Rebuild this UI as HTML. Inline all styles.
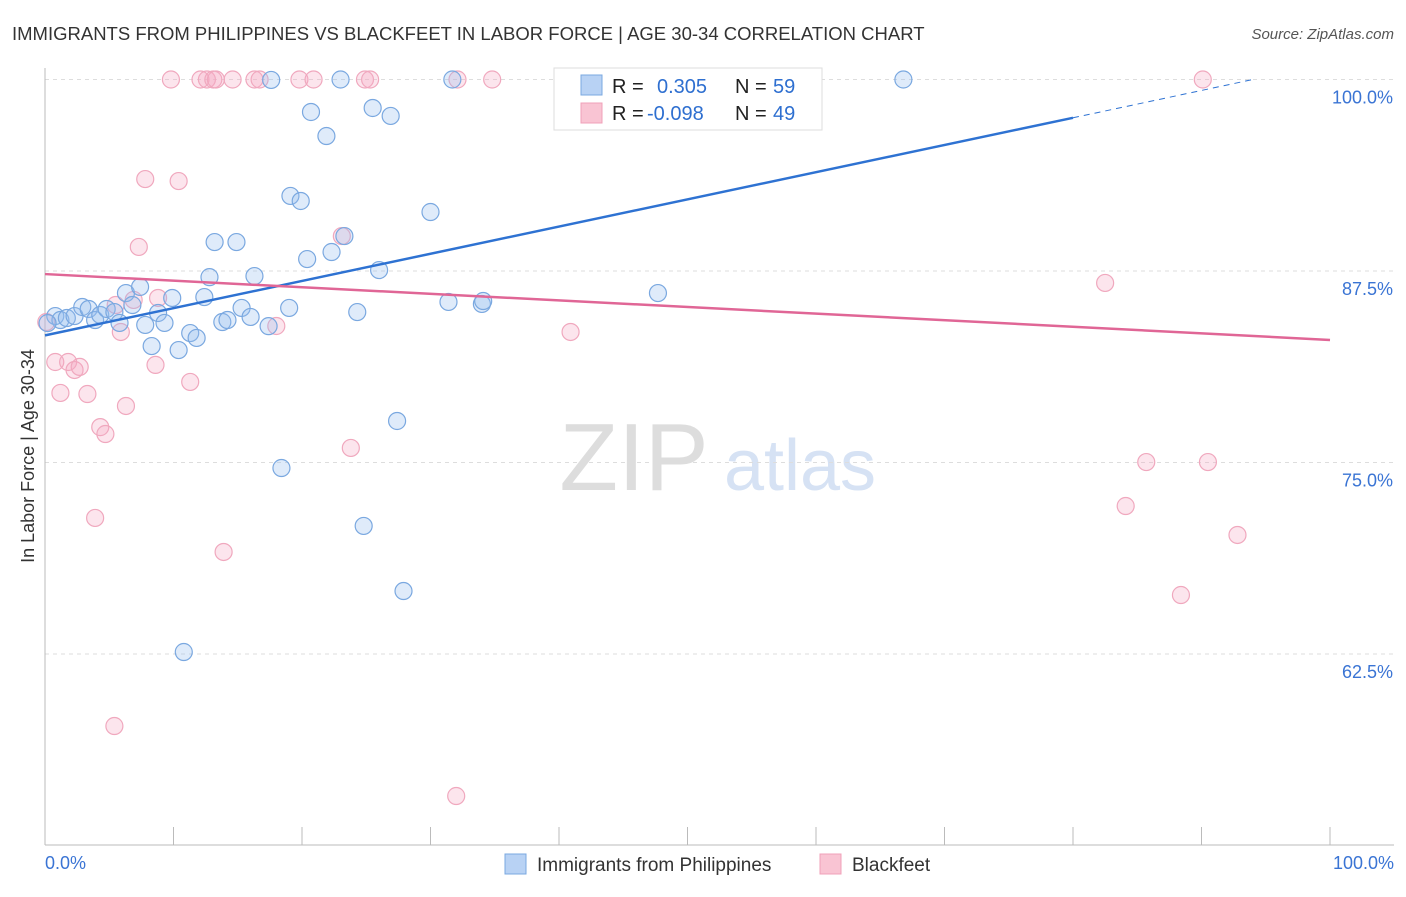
<!DOCTYPE html>
<html><head><meta charset="utf-8"><style>
body{margin:0;background:#fff;font-family:"Liberation Sans",sans-serif}
svg text{font-family:"Liberation Sans",sans-serif}
</style></head><body>
<svg id="c" width="1406" height="892">
<text x="12" y="40" font-size="18.5" fill="#333">IMMIGRANTS FROM PHILIPPINES VS BLACKFEET IN LABOR FORCE | AGE 30-34 CORRELATION CHART</text>
<text x="1394" y="39" font-size="15" fill="#555" text-anchor="end" font-style="italic">Source: ZipAtlas.com</text>
<text x="34" y="456" font-size="18" fill="#333" text-anchor="middle" transform="rotate(-90 34 456)">In Labor Force | Age 30-34</text>
<g><text x="634" y="490" font-size="96" fill="#ddd" font-family="Liberation Serif" text-anchor="middle">ZIP</text><text x="800" y="490" font-size="72" fill="#d6e2f4" text-anchor="middle">atlas</text></g>
<g id="grid"></g><g id="axes"></g><g id="pts"></g><g id="lines"></g>
<g>
<rect x="554" y="68" width="268" height="62" fill="#fff" stroke="#ddd"/>
<rect x="581" y="75" width="21" height="20" fill="#b8d2f4" stroke="#7aa8e0"/>
<rect x="581" y="103" width="21" height="20" fill="#f9c4d3" stroke="#f0a0b8"/>
<text x="612" y="93" font-size="20" fill="#222">R =</text><text x="657" y="93" font-size="20" fill="#2e6fd0">0.305</text>
<text x="735" y="93" font-size="20" fill="#222">N =</text><text x="773" y="93" font-size="20" fill="#2e6fd0">59</text>
<text x="612" y="120" font-size="20" fill="#222">R =</text><text x="647" y="120" font-size="20" fill="#2e6fd0">-0.098</text>
<text x="735" y="120" font-size="20" fill="#222">N =</text><text x="773" y="120" font-size="20" fill="#2e6fd0">49</text>
</g>
<g>
<rect x="505" y="854" width="21" height="20" fill="#b8d2f4" stroke="#7aa8e0"/>
<text x="537" y="871" font-size="19" fill="#333">Immigrants from Philippines</text>
<rect x="820" y="854" width="21" height="20" fill="#f9c4d3" stroke="#f0a0b8"/>
<text x="852" y="871" font-size="19" fill="#333">Blackfeet</text>
</g>
</svg>
<script>
const yTicks=[100,87.5,75,62.5];
const yTickLabels=["100.0%","87.5%","75.0%","62.5%"];
const blueX=[0.8,1.2,1.7,2.3,2.9,3.4,3.9,4.3,4.8,5.4,5.8,6.3,6.8,7.4,7.8,8.3,8.8,9.3,9.9,10.4,11.3,11.8,12.4,12.8,13.2,13.8,14.2,14.9,15.3,16.0,16.3,17.4,17.6,18.4,19.0,19.1,19.9,20.4,20.7,21.9,22.3,23.0,23.3,24.3,24.8,25.5,26.0,26.9,27.4,27.9,30.0,31.4,31.7,34.0,34.1,47.7,66.8,10.8,0.2];
const blueY=[84.56,84.3,84.43,84.56,85.15,85.02,84.3,84.63,85.02,84.82,84.11,86.06,85.28,86.46,83.98,82.6,84.76,84.11,85.74,82.34,83.45,83.13,85.8,87.1,89.39,84.17,84.3,89.39,85.09,84.5,87.17,83.9,99.97,74.64,85.09,92.4,92.07,88.28,97.88,96.31,88.74,100,89.78,84.82,70.86,98.14,87.56,97.62,77.71,66.61,91.35,85.48,100,85.35,85.54,86.06,100,62.63,84.1];
const pinkX=[0.1,0.8,1.2,1.8,2.3,2.7,3.3,3.9,4.3,4.7,5.5,5.9,6.3,6.9,7.3,7.8,8.6,8.8,10.4,11.3,9.8,12.1,12.6,13.1,13.3,13.9,14.6,16.3,16.7,18.0,19.8,20.9,23.1,23.8,24.9,25.3,32.1,32.0,34.8,40.5,40.9,47.4,82.5,84.1,85.7,88.4,90.5,92.8,90.1,5.4];
const pinkY=[84.17,81.56,79.54,81.56,81.04,81.24,79.47,71.38,77.31,76.86,85.28,83.52,78.69,85.61,89.07,93.5,81.37,85.74,93.37,80.26,100,100,100,100,100,69.16,100,100,100,83.91,100,100,89.78,75.95,100,100,100,53.23,100,100,83.52,100,86.72,72.16,75.03,66.35,75.03,70.27,100,57.8];
const blueTrend=[[0,83.3],[80,97.5],[94,100]];
const pinkTrend=[[0,87.3],[100,83.0]];
const X=v=>45+v*12.85, Y=v=>79.5+(100-v)*15.32;
const NS="http://www.w3.org/2000/svg";
function mk(t,a,p){const e=document.createElementNS(NS,t);for(const k in a)e.setAttribute(k,a[k]);document.getElementById(p).appendChild(e);return e;}
yTicks.forEach((v,i)=>{
 const g=mk('line',{x1:45,x2:1394,y1:Y(v),y2:Y(v),stroke:'#ddd','stroke-dasharray':'4 4'},'grid');
 
 
 const t=mk('text',{x:1393,y:Y(v)+24,'font-size':18,fill:'#3a74d4','text-anchor':'end'},'axes');
 t.textContent=yTickLabels[i];
 
 
});
const ax=mk('line',{x1:45,x2:1394,y1:845,y2:845,stroke:'#bbb'},'axes');


const ay=mk('line',{x1:45,x2:45,y1:68,y2:845,stroke:'#bbb'},'axes');


for(let i=0;i<=10;i++){const t=mk('line',{x1:X(i*10),x2:X(i*10),y1:827,y2:845,stroke:'#bbb'},'axes');
 
 }
[["0.0%",45,'start'],["100.0%",1394,'end']].forEach(a=>{const t=mk('text',{x:a[1],y:869,'font-size':18,fill:'#3a74d4','text-anchor':a[2]},'axes');t.textContent=a[0];
 
 });
function pts(xs,ys,f,s,n){xs.forEach((x,i)=>{const c=mk('circle',{cx:X(x),cy:Y(ys[i]),r:8.5,fill:f,stroke:s,'stroke-width':1.2},'pts');
 
 });}
pts(pinkX,pinkY,'rgba(245,170,195,0.3)','#f0a8be','blackfeet-point');
pts(blueX,blueY,'rgba(150,190,240,0.3)','#7aa8e0','philippines-point');
const b1=mk('line',{x1:X(blueTrend[0][0]),y1:Y(blueTrend[0][1]),x2:X(blueTrend[1][0]),y2:Y(blueTrend[1][1]),stroke:'#2e72d2','stroke-width':2.5},'lines');


const b2=mk('line',{x1:X(blueTrend[1][0]),y1:Y(blueTrend[1][1]),x2:X(blueTrend[2][0]),y2:Y(blueTrend[2][1]),stroke:'#2e72d2','stroke-width':1,'stroke-dasharray':'6 5'},'lines');


const p1=mk('line',{x1:X(pinkTrend[0][0]),y1:Y(pinkTrend[0][1]),x2:X(pinkTrend[1][0]),y2:Y(pinkTrend[1][1]),stroke:'#e06696','stroke-width':2.5},'lines');


</script>
</body></html>
